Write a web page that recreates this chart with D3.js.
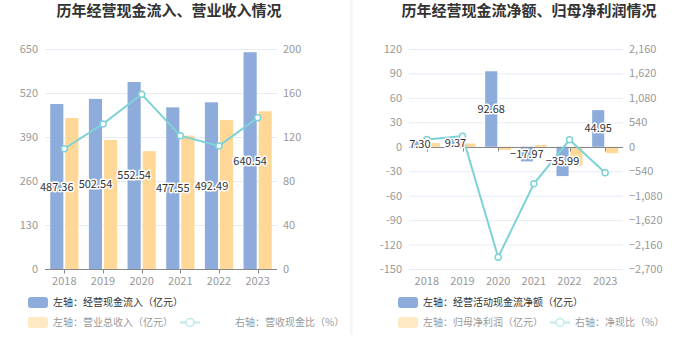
<!DOCTYPE html>
<html><head><meta charset="utf-8">
<script src="https://cdn.jsdelivr.net/npm/d3@7/dist/d3.min.js"></script>
<style>body{margin:0;background:#fff}svg{display:block;font-family:"Noto Sans CJK SC","Noto Sans",sans-serif}</style>
</head><body><svg id="c" width="700" height="360"></svg>
<script>
const years = ['2018','2019','2020','2021','2022','2023'];
// left chart
const cashInflow = [487.36, 502.54, 552.54, 477.55, 492.49, 640.54];
const revenue = [446, 381, 348, 394, 440, 466];
const cashRatio = [109.3, 131.9, 158.8, 121.2, 111.9, 137.5];
const leftTicksL = [0,130,260,390,520,650];
const leftTicksR = [0,40,80,120,160,200];
// right chart
const netCashFlow = [7.30, 9.37, 92.68, -17.97, -35.99, 44.95];
const netProfit = [4.5, 4.0, -3.8, 2.2, -23.2, -7.8];
const netCashRatio = [162, 234, -2440, -817, 155, -576];
const rightTicksL = [-150,-120,-90,-60,-30,0,30,60,90,120];
const rightTicksR = [-2700,-2160,-1620,-1080,-540,0,540,1080,1620,2160];

const C_BLUE='#8eacdb', C_YEL='#ffd898', C_LINE='#7dd3d6';
const svg = d3.select('#c');
svg.append('line').attr('x1',351.5).attr('x2',351.5).attr('y1',0).attr('y2',335).attr('stroke','#f2f2f2').attr('stroke-width',2);

function chart(o){
  const g = svg.append('g');
  g.append('text').attr('x',o.titleX).attr('y',16).attr('text-anchor','middle')
   .attr('font-size',15).attr('font-weight','bold').attr('fill','#333').text(o.title);
  const x = d3.scaleBand().domain(years).range([o.x0,o.x1]);
  const yL = d3.scaleLinear().domain(o.domL).range([269,49]);
  const yR = d3.scaleLinear().domain(o.domR).range([269,49]);
  g.selectAll('.grid').data(o.ticksL).join('line')
   .attr('x1',o.x0).attr('x2',o.x1).attr('y1',d=>yL(d)+0.5).attr('y2',d=>yL(d)+0.5)
   .attr('stroke','#e6ebf5');
  g.selectAll('.tl').data(o.ticksL).join('text').attr('x',o.x0-7).attr('y',d=>yL(d)+4)
   .attr('text-anchor','end').attr('font-size',11).attr('fill','#999').text(d=>d);
  g.selectAll('.tr').data(o.ticksR).join('text').attr('x',o.x1+6).attr('y',d=>yR(d)+4)
   .attr('text-anchor','start').attr('font-size',11).attr('fill','#999').text(d=>d3.format(',')(d));
  const bw = x.bandwidth();
  const w = bw*0.34, gap = bw*0.05;
  const c = d=>x(d)+bw/2;
  g.selectAll('.b1').data(years).join('rect')
   .attr('x',d=>c(d)-gap/2-w).attr('width',w)
   .attr('y',(d,i)=>Math.min(yL(o.a[i]),yL(0))).attr('height',(d,i)=>Math.abs(yL(o.a[i])-yL(0)))
   .attr('fill',C_BLUE);
  g.selectAll('.b2').data(years).join('rect')
   .attr('x',d=>c(d)+gap/2).attr('width',w)
   .attr('y',(d,i)=>Math.min(yL(o.b[i]),yL(0))).attr('height',(d,i)=>Math.abs(yL(o.b[i])-yL(0)))
   .attr('fill',C_YEL);
  const y0 = Math.round(yL(0))+0.5;
  g.append('line').attr('x1',o.x0).attr('x2',o.x1).attr('y1',y0).attr('y2',y0).attr('stroke','#888');
  g.selectAll('.tk').data(years).join('line').attr('x1',d=>Math.round(c(d))+0.5).attr('x2',d=>Math.round(c(d))+0.5)
   .attr('y1',y0).attr('y2',y0+4).attr('stroke','#888');
  g.selectAll('.xl').data(years).join('text').attr('x',c).attr('y',285).attr('text-anchor','middle')
   .attr('font-size',11).attr('fill','#999').text(d=>d);
  const line = d3.line().x((d,i)=>c(years[i])).y(d=>yR(d));
  g.append('path').datum(o.r).attr('d',line).attr('fill','none').attr('stroke',C_LINE).attr('stroke-width',2);
  g.selectAll('.pt').data(o.r).join('circle').attr('cx',(d,i)=>c(years[i])).attr('cy',d=>yR(d)).attr('r',3)
   .attr('fill','#fff').attr('stroke',C_LINE).attr('stroke-width',1.5);
  g.selectAll('.lb').data(o.a).join('text').attr('x',(d,i)=>c(years[i])-gap/2-w/2)
   .attr('y',d=>(yL(d)+yL(0))/2+4).attr('text-anchor','middle').attr('font-size',11).attr('fill','#333')
   .attr('stroke','#fff').attr('stroke-width',3).attr('paint-order','stroke').attr('stroke-linejoin','round')
   .text(d=>d3.format('.2f')(d));
  const L = o.leg;
  g.append('rect').attr('x',L.x).attr('y',297).attr('width',20).attr('height',11).attr('rx',3).attr('fill',C_BLUE);
  g.append('text').attr('x',L.x+25).attr('y',306).attr('font-size',10).attr('fill','#333').text(L.t1);
  g.append('rect').attr('x',L.x).attr('y',317).attr('width',20).attr('height',11).attr('rx',3).attr('fill','#ffe9c4');
  g.append('text').attr('x',L.x+25).attr('y',326).attr('font-size',10).attr('fill','#999').text(L.t2);
  g.append('line').attr('x1',L.lx).attr('x2',L.lx+20).attr('y1',322.5).attr('y2',322.5).attr('stroke','#bde9ea').attr('stroke-width',2);
  g.append('circle').attr('cx',L.lx+10).attr('cy',322.5).attr('r',4).attr('fill','#fff').attr('stroke','#bde9ea').attr('stroke-width',1.5);
  g.append('text').attr('x',L.tx).attr('y',326).attr('font-size',10).attr('fill','#999').text(L.t3);
}

chart({title:'历年经营现金流入、营业收入情况', titleX:169, x0:45, x1:277,
  domL:[0,650], domR:[0,200], ticksL:leftTicksL, ticksR:leftTicksR,
  a:cashInflow, b:revenue, r:cashRatio,
  leg:{x:28, lx:180, tx:235, t1:'左轴：经营现金流入（亿元）', t2:'左轴：营业总收入（亿元）', t3:'右轴：营收现金比（%）'}});
chart({title:'历年经营现金流净额、归母净利润情况', titleX:529, x0:409, x1:623,
  domL:[-150,120], domR:[-2700,2160], ticksL:rightTicksL, ticksR:rightTicksR,
  a:netCashFlow, b:netProfit, r:netCashRatio,
  leg:{x:398, lx:550, tx:575, t1:'左轴：经营活动现金流净额（亿元）', t2:'左轴：归母净利润（亿元）', t3:'右轴：净现比（%）'}});
</script></body></html>
